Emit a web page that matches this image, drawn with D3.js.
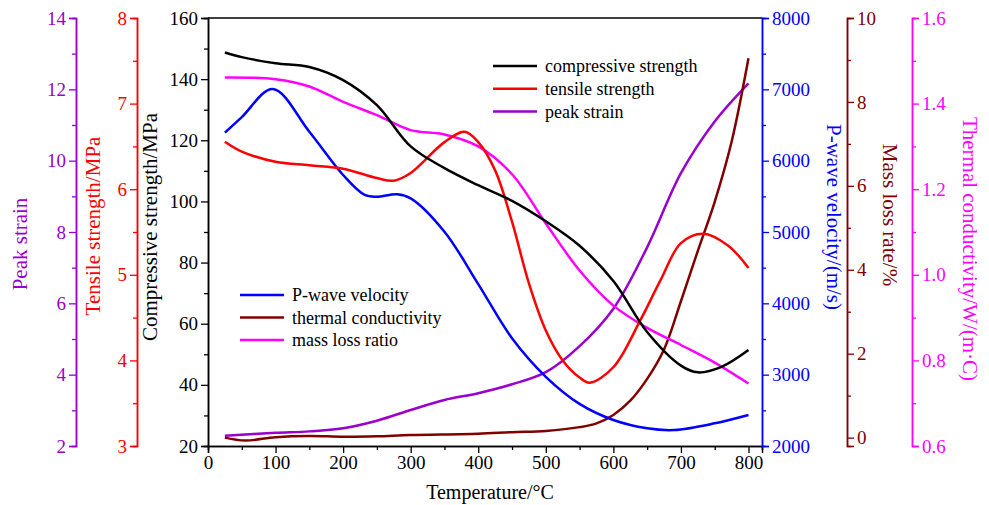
<!DOCTYPE html>
<html>
<head>
    <meta charset="utf-8">
    <style>
        body { margin: 0; background: white; }
        svg { font-family: 'Liberation Serif', 'Times New Roman', serif; }
    </style>
</head>
<body>
<svg width="989" height="505"></svg>

<script src="https://d3js.org/d3.v7.min.js"></script>
<script>
    // values (temperature in °C)
    let compT = [25, 50, 100, 150, 200, 250, 300, 350, 400, 450, 500, 550, 600, 650, 700, 725, 760, 800]
    let comp = [148.7, 147.2, 145.2, 144.0, 139.7, 131.5, 118.0, 110.9, 105.3, 100.2, 93.5, 85.5, 74, 57.3, 46.3, 44.1, 45.9, 51.4]

    let tensT = [25, 50, 100, 150, 200, 250, 275, 300, 350, 380, 400, 425, 450, 475, 500, 525, 550, 565, 600, 640, 670, 700, 733, 770, 800]
    let tens = [6.555, 6.44, 6.32, 6.28, 6.24, 6.13, 6.10, 6.19, 6.55, 6.67, 6.55, 6.22, 5.62, 4.9, 4.35, 4.0, 3.8, 3.74, 3.92, 4.47, 4.94, 5.37, 5.48, 5.34, 5.08]

    let peakT = [25, 100, 150, 200, 250, 300, 350, 400, 450, 500, 550, 600, 650, 700, 750, 800]
    let peak = [2.29, 2.37, 2.41, 2.50, 2.71, 3.01, 3.29, 3.48, 3.73, 4.07, 4.8, 5.85, 7.57, 9.65, 11.1, 12.17]

    let waveT = [25, 50, 96, 150, 200, 232, 250, 280, 300, 350, 400, 450, 500, 550, 600, 650, 690, 750, 800]
    let wave = [6392, 6610, 7005, 6406, 5799, 5519, 5495, 5529, 5472, 5004, 4270, 3510, 2970, 2590, 2364, 2248, 2224, 2318, 2435]

    let massT = [25, 55, 100, 150, 200, 250, 300, 400, 450, 500, 550, 575, 600, 625, 650, 675, 700, 725, 750, 775, 800]
    let mass = [0.0, -0.07, 0.01, 0.04, 0.02, 0.03, 0.06, 0.09, 0.13, 0.16, 0.25, 0.34, 0.54, 0.88, 1.4, 2.1, 3.25, 4.45, 5.62, 7.05, 9.04]

    let thermT = [25, 100, 150, 200, 250, 300, 350, 400, 450, 500, 550, 600, 650, 700, 750, 800]
    let therm = [1.461, 1.457, 1.44, 1.404, 1.373, 1.338, 1.328, 1.30, 1.235, 1.12, 1.01, 0.928, 0.876, 0.836, 0.795, 0.746]

    let xTicks = d3.range(0, 801, 100)

    let svg = d3.select("svg")

    let plotL = 208, plotR = 762, plotT = 18, plotB = 446

    let x = d3.scaleLinear().domain([0, 820]).range([plotL, plotR])

    // one y scale per series
    let yComp = d3.scaleLinear().domain([20, 160]).range([plotB, plotT])
    let yTens = d3.scaleLinear().domain([3, 8]).range([plotB, plotT])
    let yPeak = d3.scaleLinear().domain([2, 14]).range([plotB, plotT])
    let yWave = d3.scaleLinear().domain([2000, 8000]).range([plotB, plotT])
    let yMass = d3.scaleLinear().domain([-0.2, 10]).range([plotB, plotT])
    let yTherm = d3.scaleLinear().domain([0.6, 1.6]).range([plotB, plotT])

    let purple = "#9900cc", maroon = "#800000", magenta = "#ff00ff"

    // frame top line
    svg.append("line")
        .attr("x1", plotL).attr("x2", plotR)
        .attr("y1", plotT).attr("y2", plotT)
        .attr("stroke", "black").attr("stroke-width", 1.5)

    // helper: draw an axis with major + minor ticks
    function drawAxis(axisFn, scale, xpos, ypos, major, minor, color, fmt) {
        let g = svg.append("g").attr("transform", "translate(" + xpos + "," + ypos + ")")
        g.call(axisFn(scale).tickValues(minor).tickSize(4).tickFormat(""))
        let g2 = svg.append("g").attr("transform", "translate(" + xpos + "," + ypos + ")")
        g2.call(axisFn(scale).tickValues(major).tickSize(7).tickPadding(3).tickFormat(fmt || d3.format("")))
        for (let gg of [g, g2]) {
            gg.attr("font-family", null).attr("font-size", 19)
            gg.select(".domain").attr("stroke", color).attr("stroke-width", 1.5)
            gg.selectAll(".tick line").attr("stroke", color).attr("stroke-width", 1.3)
            gg.selectAll(".tick text").attr("fill", color)
        }
    }

    drawAxis(d3.axisBottom, x, 0, plotB, xTicks, d3.range(50, 801, 100), "black")
    drawAxis(d3.axisLeft, yComp, plotL, 0, d3.range(20, 161, 20), d3.range(30, 160, 20), "black")
    drawAxis(d3.axisLeft, yTens, 137, 0, d3.range(3, 8.01, 1), d3.range(3.5, 8, 1), "red")
    drawAxis(d3.axisLeft, yPeak, 76, 0, d3.range(2, 14.01, 2), d3.range(3, 14, 2), purple)
    drawAxis(d3.axisRight, yWave, plotR, 0, d3.range(2000, 8001, 1000), d3.range(2500, 8000, 1000), "blue")
    drawAxis(d3.axisRight, yMass, 847, 0, d3.range(0, 10.01, 2), d3.range(1, 10, 2), maroon)
    drawAxis(d3.axisRight, yTherm, 912, 0, d3.range(0.6, 1.61, 0.2), d3.range(0.7, 1.6, 0.2), magenta, d3.format(".1f"))

    // axis titles
    let titles = [
        { t: "Peak strain", x: 20, y: 244, r: -90, c: purple },
        { t: "Tensile strength/MPa", x: 93, y: 226, r: -90, c: "red" },
        { t: "Compressive strength/MPa", x: 150, y: 227, r: -90, c: "black" },
        { t: "P-wave velocity/(m/s)", x: 834, y: 217, r: 90, c: "blue" },
        { t: "Mass loss rate/%", x: 890, y: 215, r: 90, c: maroon },
        { t: "Thermal conductivity/W/(m·C)", x: 970, y: 249, r: 90, c: magenta }
    ]
    svg.selectAll(".ytitle")
        .data(titles)
        .join("text")
        .attr("class", "ytitle")
        .attr("transform", d => "translate(" + d.x + "," + d.y + ") rotate(" + d.r + ")")
        .attr("text-anchor", "middle")
        .attr("dy", "0.35em")
        .attr("fill", d => d.c)
        .style("font-size", "21px")
        .text(d => d.t)

    svg.append("text")
        .attr("x", 490).attr("y", 499)
        .attr("text-anchor", "middle")
        .style("font-size", "20px")
        .text("Temperature/°C")

    // curves
    let series = [
        { t: peakT, v: peak, y: yPeak, c: purple },
        { t: massT, v: mass, y: yMass, c: maroon },
        { t: waveT, v: wave, y: yWave, c: "blue" },
        { t: thermT, v: therm, y: yTherm, c: magenta },
        { t: tensT, v: tens, y: yTens, c: "red" },
        { t: compT, v: comp, y: yComp, c: "black" }
    ]

    for (let s of series) {
        let line = d3.line()
            .x(d => x(d[0]))
            .y(d => s.y(d[1]))
            .curve(d3.curveCatmullRom.alpha(0.5))
        svg.append("path")
            .datum(d3.zip(s.t, s.v))
            .attr("fill", "none")
            .attr("stroke", s.c)
            .attr("stroke-width", 2.5)
            .attr("d", line)
    }

    // legends
    let legend1 = [["compressive strength", "black"], ["tensile strength", "red"], ["peak strain", purple]]
    let legend2 = [["P-wave velocity", "blue"], ["thermal conductivity", maroon], ["mass loss ratio", magenta]]

    function drawLegend(items, lx, ly, gap) {
        let g = svg.append("g").attr("transform", "translate(" + lx + "," + ly + ")")
        items.forEach((d, i) => {
            g.append("line")
                .attr("x1", 0).attr("x2", 44)
                .attr("y1", i * gap).attr("y2", i * gap)
                .attr("stroke", d[1]).attr("stroke-width", 2.5)
            g.append("text")
                .attr("x", 52).attr("y", i * gap)
                .attr("dy", "0.35em")
                .style("font-size", "18px")
                .text(d[0])
        })
    }
    drawLegend(legend1, 493, 66, 22.8)
    drawLegend(legend2, 240, 295, 22.5)
</script>
</body>
</html>
